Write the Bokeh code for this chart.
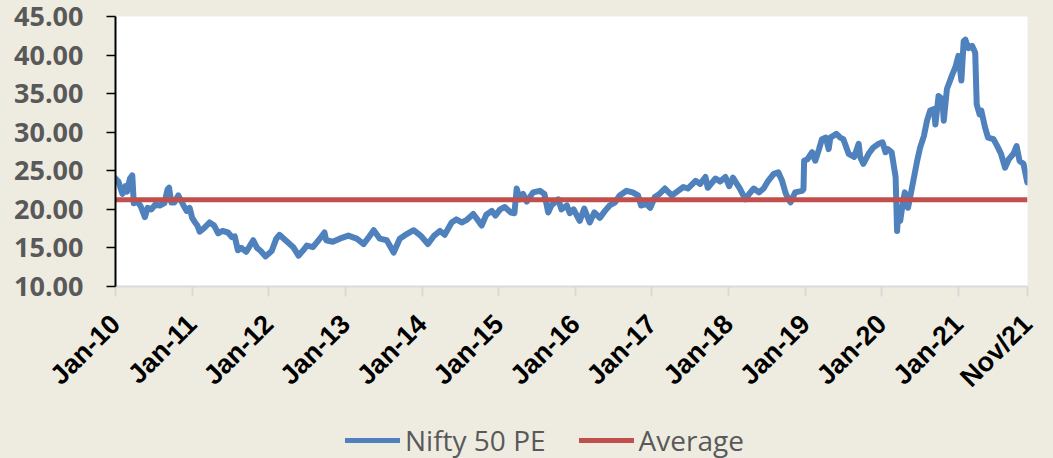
import pandas as pd
from math import pi
from bokeh.plotting import figure
from bokeh.layouts import column
from bokeh.models import (FixedTicker, NumeralTickFormatter, Legend, LegendItem,
                          Range1d, ColumnDataSource)
from bokeh.embed import file_html
from bokeh.resources import INLINE

# ---------------- data ----------------
DATES = [
    "2010-01-01", "2010-01-15", "2010-02-03", "2010-02-17", "2010-02-25", "2010-03-11",
    "2010-03-22", "2010-03-29", "2010-04-16", "2010-05-01", "2010-05-21", "2010-06-03",
    "2010-06-21", "2010-07-09", "2010-07-31", "2010-08-22", "2010-09-06", "2010-09-13",
    "2010-09-24", "2010-10-09", "2010-10-27", "2010-11-06", "2010-11-21", "2010-12-06",
    "2010-12-20",
    "2011-01-01", "2011-01-15", "2011-01-26", "2011-02-06", "2011-02-28", "2011-03-25",
    "2011-04-16", "2011-05-05", "2011-05-26", "2011-06-21", "2011-07-09", "2011-07-23",
    "2011-08-07", "2011-08-23", "2011-09-16", "2011-10-19", "2011-11-06", "2011-11-24",
    "2011-12-16",
    "2012-01-15", "2012-02-06", "2012-02-21", "2012-03-21", "2012-04-27", "2012-05-22",
    "2012-06-17", "2012-07-01", "2012-07-30", "2012-09-01", "2012-09-23", "2012-10-01",
    "2012-11-02", "2012-12-05",
    "2013-01-15", "2013-02-24", "2013-03-29", "2013-04-20", "2013-05-16", "2013-06-14",
    "2013-07-17", "2013-08-19", "2013-09-17", "2013-10-20", "2013-11-22", "2013-12-25",
    "2014-01-29", "2014-02-28", "2014-03-28", "2014-04-19", "2014-05-22", "2014-06-13",
    "2014-07-09", "2014-07-31", "2014-09-02", "2014-09-24", "2014-10-12", "2014-11-03",
    "2014-11-29", "2014-12-17",
    "2015-01-08", "2015-01-30", "2015-02-28", "2015-03-17", "2015-03-28", "2015-04-12",
    "2015-04-27", "2015-05-15", "2015-06-14", "2015-07-16", "2015-08-07", "2015-08-25",
    "2015-09-09", "2015-10-12", "2015-10-27", "2015-11-22", "2015-12-06", "2015-12-24",
    "2016-01-22", "2016-02-13", "2016-03-10", "2016-04-01", "2016-04-27", "2016-05-22",
    "2016-06-13", "2016-07-09", "2016-07-31", "2016-09-02", "2016-10-01", "2016-10-27",
    "2016-11-10", "2016-12-06", "2016-12-24",
    "2017-01-15", "2017-02-06", "2017-03-04", "2017-04-06", "2017-05-01", "2017-05-31",
    "2017-06-21", "2017-07-28", "2017-08-19", "2017-09-13", "2017-09-24", "2017-10-31",
    "2017-11-22", "2017-12-17",
    "2018-01-04", "2018-01-22", "2018-02-24", "2018-03-22", "2018-04-09", "2018-05-01",
    "2018-05-26", "2018-06-17", "2018-07-09", "2018-08-04", "2018-08-26", "2018-09-13",
    "2018-10-01", "2018-10-23", "2018-11-14", "2018-12-17", "2018-12-24", "2018-12-27",
    "2019-01-12", "2019-02-03", "2019-02-18", "2019-03-08", "2019-03-22", "2019-04-09",
    "2019-04-23", "2019-05-01", "2019-05-30", "2019-06-17", "2019-07-02", "2019-07-27",
    "2019-08-22", "2019-09-13", "2019-09-20", "2019-10-05", "2019-10-30", "2019-11-21",
    "2019-12-17",
    "2020-01-04", "2020-01-19", "2020-01-30", "2020-02-17", "2020-03-07", "2020-03-14",
    "2020-03-21", "2020-03-29", "2020-04-12", "2020-04-20", "2020-05-05", "2020-05-12",
    "2020-06-03", "2020-06-18", "2020-07-02", "2020-07-20", "2020-08-04", "2020-08-19",
    "2020-09-06", "2020-09-13", "2020-09-28", "2020-10-16", "2020-10-23", "2020-11-07",
    "2020-12-03", "2020-12-17",
    "2021-01-01", "2021-01-15", "2021-01-26", "2021-02-03", "2021-02-17", "2021-03-07",
    "2021-03-22", "2021-03-29", "2021-04-12", "2021-04-20", "2021-05-08", "2021-05-22",
    "2021-06-17", "2021-07-05", "2021-07-23", "2021-08-11", "2021-08-29", "2021-09-20",
    "2021-10-05", "2021-10-19", "2021-11-07", "2021-11-25",
]
PE = [
    24.0, 23.6, 22.0, 23.0, 22.3, 24.0,
    24.4, 20.8, 21.0, 20.4, 19.0, 20.2,
    20.0, 20.6, 20.5, 20.8, 22.6, 22.8,
    20.9, 20.9, 21.8, 21.3, 20.5, 19.8,
    20.2,
    18.9, 18.3, 17.9, 17.1, 17.6, 18.3,
    17.9, 16.9, 17.2, 17.0, 16.4, 16.5,
    14.7, 15.0, 14.5, 16.0, 15.0, 14.6,
    13.9,
    14.6, 16.2, 16.7, 16.0, 15.1, 14.0,
    14.8, 15.3, 15.1, 16.2, 17.0, 16.0,
    15.8, 16.2,
    16.6, 16.2, 15.5, 16.3, 17.3, 16.2,
    16.0, 14.4, 16.2, 16.8, 17.3, 16.6,
    15.5, 16.6, 17.2, 16.7, 18.3, 18.7,
    18.3, 18.6, 19.4, 18.6, 17.9, 19.3,
    19.8, 19.2,
    20.0, 20.3, 19.6, 19.5, 22.7, 21.3,
    22.0, 21.0, 22.2, 22.4, 22.0, 19.6,
    20.5, 21.3, 20.0, 20.5, 19.5, 20.0,
    18.5, 20.1, 18.3, 19.6, 18.9, 19.8,
    20.5, 20.9, 21.8, 22.4, 22.2, 21.8,
    20.5, 20.7, 20.2,
    21.6, 22.0, 22.7, 21.8, 22.3, 22.9,
    22.7, 23.7, 23.3, 24.2, 22.8, 24.0,
    23.6, 24.2,
    23.0, 24.1, 22.7, 21.3, 22.0, 22.7,
    22.2, 22.7, 23.7, 24.6, 24.8, 23.7,
    22.0, 20.9, 22.2, 22.4, 22.6, 26.3,
    26.5, 27.4, 26.3, 27.8, 29.1, 29.3,
    27.8, 29.3, 29.8, 29.3, 29.1, 27.2,
    26.8, 28.5, 26.8, 25.9, 27.2, 28.0,
    28.5,
    28.7, 27.4, 27.8, 27.4, 24.2, 17.2,
    20.2, 18.5, 21.1, 22.2, 20.2, 21.1,
    24.2, 26.3, 28.0, 29.5, 31.5, 32.8,
    33.0, 31.0, 34.7, 34.3, 31.5, 35.6,
    37.5, 38.4,
    39.9, 36.7, 41.8, 42.0, 40.9, 41.2,
    40.3, 33.6, 32.3, 32.8, 30.6, 29.3,
    29.1, 28.2, 27.2, 25.4, 26.5, 27.2,
    28.2, 26.3, 25.9, 23.5,
]
AVERAGE = 21.25
SERIES_NAMES = ["Nifty 50 PE", "Average"]
X_TICK_YEARS = list(range(2010, 2022))
X_TICK_LABELS = ["Jan-10", "Jan-11", "Jan-12", "Jan-13", "Jan-14", "Jan-15",
                 "Jan-16", "Jan-17", "Jan-18", "Jan-19", "Jan-20", "Jan-21"]
END_LABEL = "Nov/21"
Y_TICKS = [10, 15, 20, 25, 30, 35, 40, 45]
X_START = "2010-01-01"
X_END = "2021-11-26"

BLUE = "#4F81BD"
RED = "#C0504D"
BG = "#EEECE1"
GREY_TXT = "#595959"


def frac_year(s):
    d = pd.Timestamp(s)
    start = pd.Timestamp(year=d.year, month=1, day=1)
    end = pd.Timestamp(year=d.year + 1, month=1, day=1)
    return d.year + (d - start) / (end - start)


x = [frac_year(d) for d in DATES]
x0, x1 = frac_year(X_START), frac_year(X_END)

src = ColumnDataSource(dict(x=x, pe=PE))
avg_src = ColumnDataSource(dict(x=[x0, x1], avg=[AVERAGE, AVERAGE]))

# ---------------- main chart ----------------
p = figure(width=1053, height=410, output_backend="svg", toolbar_location=None,
           x_range=Range1d(x0, x1), y_range=Range1d(10, 45),
           min_border_left=115, min_border_right=26, min_border_top=16,
           min_border_bottom=124)
p.background_fill_color = "white"
p.border_fill_color = BG
p.outline_line_color = None
p.xgrid.visible = False
p.ygrid.visible = False

r_pe = p.line("x", "pe", source=src, line_color=BLUE, line_width=6,
              line_join="round", line_cap="round")
r_avg = p.line("x", "avg", source=avg_src, line_color=RED, line_width=5)

# y axis
ya = p.yaxis[0]
ya.ticker = FixedTicker(ticks=Y_TICKS)
ya.formatter = NumeralTickFormatter(format="0.00")
ya.major_label_text_font = "Open Sans"
ya.major_label_text_font_style = "bold"
ya.major_label_text_font_size = "27px"
ya.major_label_text_color = GREY_TXT
ya.axis_line_color = "black"
ya.axis_line_width = 2
ya.major_tick_line_color = "black"
ya.major_tick_line_width = 1.5
ya.major_tick_out = 9
ya.major_tick_in = 0
ya.minor_tick_line_color = None
ya.major_label_standoff = 23

# x axis (the last tick sits at the end of the data, labelled Nov/21)
ticks = X_TICK_YEARS + [x1]
labels = X_TICK_LABELS + [END_LABEL]
xa = p.xaxis[0]
xa.ticker = FixedTicker(ticks=ticks)
xa.major_label_overrides = {t: lab for t, lab in zip(ticks, labels)}
xa.major_label_orientation = pi / 4
xa.major_label_text_font = "Liberation Sans"
xa.major_label_text_font_style = "bold"
xa.major_label_text_font_size = "27px"
xa.major_label_text_color = "black"
xa.axis_line_color = "#D9D9D9"
xa.axis_line_width = 2
xa.major_tick_line_color = "#D9D9D9"
xa.major_tick_line_width = 2
xa.major_tick_out = 10
xa.major_tick_in = 0
xa.minor_tick_line_color = None
xa.major_label_standoff = 23

# ---------------- legend strip (frame aligned with the chart frame) ----------------
leg = figure(width=1053, height=48, output_backend="svg", toolbar_location=None,
             x_axis_location=None, y_axis_location=None,
             x_range=Range1d(0, 1), y_range=Range1d(0, 1), min_border=0)
leg.background_fill_color = BG
leg.border_fill_color = BG
leg.outline_line_color = None
leg.xgrid.visible = False
leg.ygrid.visible = False
# same series, drawn outside this strip's ranges: only their legend entries show
l_pe = leg.line("x", "pe", source=src, line_color=BLUE, line_width=5, line_cap="round")
l_avg = leg.line("x", "avg", source=avg_src, line_color=RED, line_width=5, line_cap="round")

legend = Legend(items=[LegendItem(label=SERIES_NAMES[0], renderers=[l_pe]),
                       LegendItem(label=SERIES_NAMES[1], renderers=[l_avg])],
                location=(230, -1), orientation="horizontal",
                glyph_width=55, glyph_height=20, label_standoff=5, spacing=33,
                padding=0, margin=0, border_line_alpha=0, background_fill_alpha=0,
                label_text_font="Open Sans", label_text_font_size="28px",
                label_text_color=GREY_TXT)
leg.add_layout(legend)

layout = column(p, leg, spacing=0)

html = file_html(layout, INLINE)
html = html.replace("</head>",
                    "<style>html,body{margin:0;padding:0;background:%s;}</style></head>" % BG, 1)
open("out.html", "w").write(html)
